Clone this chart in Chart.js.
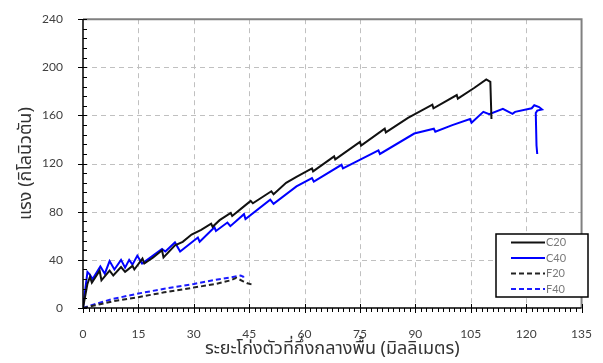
<!DOCTYPE html>
<html>
<head>
<meta charset="utf-8">
<script src="https://cdn.jsdelivr.net/npm/chart.js@4.4.1/dist/chart.umd.min.js"></script>
<style>
  html, body { margin: 0; padding: 0; background: #fff; }
  #wrap { width: 603px; height: 363px; }
</style>
</head>
<body>
<div id="wrap"><canvas id="canvas" width="603" height="363"></canvas></div>
<script>
// deflection at midspan (mm) and load (kN)
var seriesNames = ["C20", "C40", "F20", "F40"];

var c20X = [0, 1.2, 1.9, 2.4, 4.5, 5.0, 7.2, 8.2, 10.3, 11.4, 13.4, 13.9, 16.1, 16.6, 19, 21.4, 21.8, 24.9, 27, 29.4, 32, 34.7, 35.1, 37, 40, 40.4, 43, 45.4, 46, 51, 51.6, 55, 57.8, 62, 62.3, 68, 68.3, 75, 75.3, 81.7, 82, 88, 94.6, 94.9, 101.2, 101.5, 106, 109.2, 110.3, 110.6];
var c20Y = [0, 20, 26, 21, 31, 23, 31, 27, 34, 30, 35, 32, 41, 37, 42, 48, 42, 52, 55, 61, 65, 70, 67.5, 73, 79, 76.5, 83, 89, 87, 97, 94.5, 104, 109, 116, 113.5, 126, 123.5, 138, 135, 149, 146, 158, 169, 166, 177, 174, 183, 190, 188, 157];

var c40X = [0, 1.2, 1.8, 2.6, 4.7, 5.9, 7.2, 8.5, 10.3, 11.4, 12.5, 13.4, 14.7, 16, 19.6, 21.4, 22.3, 24.9, 26.3, 31.1, 31.6, 35.6, 36, 39.1, 39.9, 43.6, 44, 50.7, 51.6, 57.8, 62, 62.5, 70, 70.4, 80, 80.4, 89.7, 95, 95.4, 100, 104.8, 105.2, 108.4, 110, 113.7, 116.3, 117, 121.5, 122.2, 123.5, 124.3, 123, 122.6, 122.8, 123];
var c40Y = [0, 30, 28, 24, 34.5, 28.5, 39, 32, 40, 33.5, 40, 36, 43.5, 37, 45, 49, 47, 54.5, 47, 58.6, 55, 67, 64, 71, 68, 78, 74, 90, 86.5, 101, 108, 105, 119, 116, 131, 128, 145, 149, 146.5, 152, 157, 154, 163, 161, 165.5, 161.4, 163, 166, 168.5, 167, 165, 164, 162, 135, 128];

var f20X = [0, 3, 8, 15, 22, 30, 36, 40, 41.5, 43.5, 44.5, 45.8];
var f20Y = [0, 2, 5.5, 9, 13, 17, 20, 23, 25, 22, 20.5, 19.5];

var f40X = [0, 3, 8, 15, 22, 30, 36, 40, 42.7, 43.4, 43.7];
var f40Y = [0, 3, 7.5, 12, 16, 20, 23.5, 25.5, 27, 26, 23];

var xTicks = [0, 15, 30, 45, 60, 75, 90, 105, 120, 135];
var yTicks = [0, 40, 80, 120, 160, 200, 240];

function pts(xs, ys) {
	return xs.map(function(v, i) { return {x: v, y: ys[i]}; });
}

var thaiFont = "'Noto Sans Thai', 'Noto Sans Thai UI', 'Leelawadee UI', Tahoma, 'DejaVu Sans', sans-serif";
var tickFont = "Lato, 'Liberation Sans', sans-serif";

// dashed grid under the data
var dashGrid = {
	id: 'dashGrid',
	beforeDatasetsDraw: function(chart) {
		var a = chart.chartArea, ctx = chart.ctx;
		var x = chart.scales.x, y = chart.scales.y;
		ctx.save();
		ctx.lineWidth = 1;
		ctx.strokeStyle = '#c0c0c0';
		ctx.setLineDash([5, 4]);
		ctx.beginPath();
		for (var i = 1; i < xTicks.length - 1; i++) {
			var gx = Math.round(x.getPixelForValue(xTicks[i])) + 0.5;
			ctx.moveTo(gx, a.top);
			ctx.lineTo(gx, a.bottom);
		}
		for (var j = 1; j < yTicks.length - 1; j++) {
			var gy = Math.round(y.getPixelForValue(yTicks[j])) + 0.5;
			ctx.moveTo(a.left, gy);
			ctx.lineTo(a.right, gy);
		}
		ctx.stroke();
		ctx.restore();
	}
};

// frame, ticks and legend, drawn once the chart is done
var overlay = {
	id: 'overlay',
	afterDraw: function(chart) {
		var a = chart.chartArea, ctx = chart.ctx;
		var x = chart.scales.x, y = chart.scales.y;
		ctx.save();

		// frame
		ctx.strokeStyle = '#808080';
		ctx.lineWidth = 2;
		ctx.beginPath();
		ctx.moveTo(a.left, a.top);
		ctx.lineTo(a.right, a.top);
		ctx.lineTo(a.right, a.bottom);
		ctx.stroke();
		ctx.strokeStyle = '#000';
		ctx.lineWidth = 1.5;
		ctx.beginPath();
		ctx.moveTo(a.left, a.top);
		ctx.lineTo(a.left, a.bottom);
		ctx.lineTo(a.right, a.bottom);
		ctx.stroke();

		// major and minor tick marks
		ctx.lineWidth = 1;
		ctx.beginPath();
		for (var k = 0; k <= 90; k++) {
			var px = Math.round(x.getPixelForValue(k * 1.5)) + 0.5;
			if (k % 10 === 0) {
				ctx.moveTo(px, a.bottom - 4);
				ctx.lineTo(px, a.bottom + 5);
			} else {
				ctx.moveTo(px, a.bottom);
				ctx.lineTo(px, a.bottom + 4);
			}
		}
		for (var m = 0; m <= 30; m++) {
			var py = Math.round(y.getPixelForValue(m * 8)) + 0.5;
			if (m % 5 === 0) {
				ctx.moveTo(a.left - 5, py);
				ctx.lineTo(a.left + 4, py);
			} else {
				ctx.moveTo(a.left, py);
				ctx.lineTo(a.left + 4, py);
			}
		}
		ctx.stroke();

		// legend box, lower right
		var bx = 496, by = 234, bw = 92, bh = 63;
		ctx.fillStyle = '#fff';
		ctx.fillRect(bx, by, bw, bh);
		ctx.strokeStyle = '#000';
		ctx.lineWidth = 1.5;
		ctx.strokeRect(bx, by, bw, bh);
		ctx.font = "11px " + tickFont;
		ctx.textBaseline = 'middle';
		chart.data.datasets.forEach(function(ds, n) {
			var ly = by + 8.5 + n * 15.5;
			ctx.strokeStyle = ds.borderColor;
			ctx.lineWidth = 2;
			ctx.setLineDash(ds.borderDash || []);
			ctx.beginPath();
			ctx.moveTo(511, ly);
			ctx.lineTo(545, ly);
			ctx.stroke();
			ctx.setLineDash([]);
			ctx.fillStyle = '#7a7a7a';
			ctx.fillText(ds.label, 546, ly);
		});
		ctx.restore();
	}
};

var ctx = document.getElementById('canvas').getContext('2d');
var chart = new Chart(ctx, {
	type: 'scatter',
	data: {
		datasets: [{
			label: seriesNames[0],
			data: pts(c20X, c20Y),
			borderColor: '#111111',
			borderWidth: 2
		}, {
			label: seriesNames[1],
			data: pts(c40X, c40Y),
			borderColor: '#0000ff',
			borderWidth: 2
		}, {
			label: seriesNames[2],
			data: pts(f20X, f20Y),
			borderColor: '#222222',
			borderWidth: 2,
			borderDash: [5, 3]
		}, {
			label: seriesNames[3],
			data: pts(f40X, f40Y),
			borderColor: '#1a1aff',
			borderWidth: 2,
			borderDash: [5, 3]
		}]
	},
	options: {
		responsive: false,
		animation: false,
		showLine: true,
		elements: {
			point: { radius: 0, hoverRadius: 0 },
			line: { tension: 0, fill: false }
		},
		layout: { padding: { left: 0, top: 16, right: 13, bottom: 0 } },
		plugins: {
			legend: { display: false },
			tooltip: { enabled: false }
		},
		scales: {
			x: {
				type: 'linear',
				min: 0,
				max: 135,
				afterBuildTicks: function(scale) {
					scale.ticks = xTicks.map(function(v) { return {value: v}; });
				},
				afterFit: function(scale) { scale.height = 55; },
				ticks: {
					color: '#404040',
					font: { family: tickFont, size: 12 },
					padding: 11,
					maxRotation: 0,
					autoSkip: false
				},
				grid: { display: false },
				border: { display: false },
				title: {
					display: true,
					text: 'ระยะโก่งตัวที่กึ่งกลางพื้น (มิลลิเมตร)',
					color: '#333',
					font: { family: thaiFont, size: 18 },
					padding: { top: 0, bottom: 2 }
				}
			},
			y: {
				type: 'linear',
				min: 0,
				max: 240,
				afterBuildTicks: function(scale) {
					scale.ticks = yTicks.map(function(v) { return {value: v}; });
				},
				afterFit: function(scale) { scale.width = 83; },
				ticks: {
					color: '#404040',
					font: { family: tickFont, size: 12 },
					padding: 12
				},
				grid: { display: false },
				border: { display: false },
				title: {
					display: true,
					text: 'แรง (กิโลนิวตัน)',
					color: '#333',
					font: { family: thaiFont, size: 18 },
					padding: { top: 17, bottom: 0 }
				}
			}
		}
	},
	plugins: [dashGrid, overlay]
});
</script>
</body>
</html>
